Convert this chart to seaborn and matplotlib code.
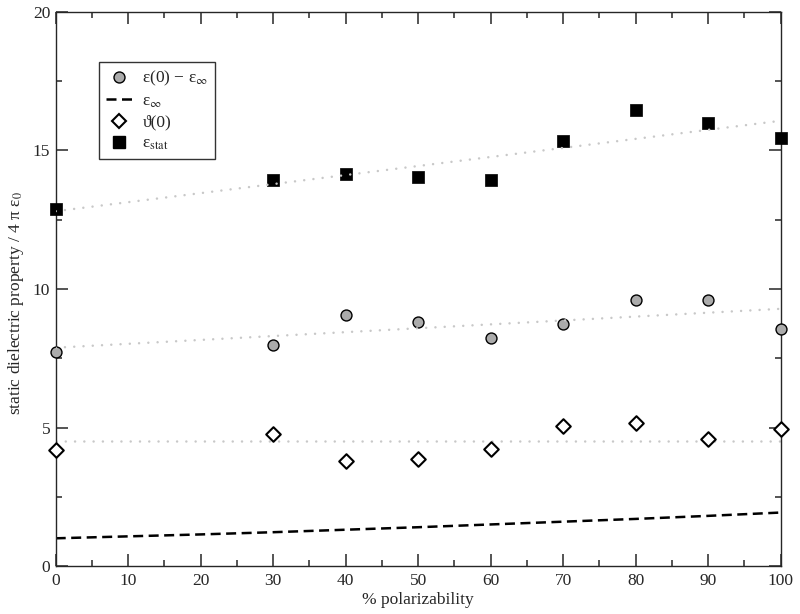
import numpy as np
import pandas as pd
import seaborn as sns
import matplotlib.pyplot as plt
from matplotlib.lines import Line2D
from matplotlib.ticker import MultipleLocator

# values
polarizability = [0, 30, 40, 50, 60, 70, 80, 90, 100]
eps_diff = [7.72, 7.97, 9.05, 8.80, 8.22, 8.73, 9.59, 9.59, 8.56]
theta0 = [4.19, 4.76, 3.78, 3.85, 4.24, 5.07, 5.17, 4.60, 4.96]
eps_stat = [12.88, 13.95, 14.16, 14.06, 13.95, 15.33, 16.46, 16.00, 15.46]

inf_x = [0, 10, 20, 30, 40, 50, 60, 70, 80, 90, 100]
eps_inf = [1.00, 1.07, 1.14, 1.22, 1.31, 1.40, 1.50, 1.60, 1.70, 1.81, 1.93]

df = pd.DataFrame({
    "x": polarizability,
    "diff": eps_diff,
    "theta": theta0,
    "stat": eps_stat,
})
df_inf = pd.DataFrame({"x": inf_x, "inf": eps_inf})
df_mean = pd.DataFrame({"x": [0, 100], "theta": [np.mean(theta0)] * 2})

sns.set_style("ticks")
plt.rcParams["font.family"] = ["Liberation Serif", "DejaVu Serif"]
plt.rcParams["mathtext.fontset"] = "stix"
plt.rcParams["font.size"] = 12.5

fig = plt.figure(figsize=(8, 6.14), dpi=100)
ax = fig.add_axes([55.7 / 800, 1 - 566 / 614, 725 / 800, 554 / 614])

fit_kw = dict(color="#c8c8c8", lw=1.8, ls=(0, (0.01, 3.7)), dash_capstyle="round")
dash_ls = (0, (4, 2.2))

# fitted trend lines
sns.regplot(data=df, x="x", y="stat", scatter=False, ci=None, ax=ax,
            line_kws=dict(zorder=4, **fit_kw))
sns.regplot(data=df, x="x", y="diff", scatter=False, ci=None, ax=ax,
            line_kws=dict(zorder=4, **fit_kw))
sns.lineplot(data=df_mean, x="x", y="theta", ax=ax, zorder=1, **fit_kw)

sns.lineplot(data=df_inf, x="x", y="inf", ax=ax, color="black", lw=1.8,
             ls=dash_ls, zorder=2)

sns.scatterplot(data=df, x="x", y="diff", ax=ax, marker="o", s=62,
                color="#ababab", edgecolor="black", linewidth=1.0, zorder=3,
                clip_on=False)
sns.scatterplot(data=df, x="x", y="theta", ax=ax, marker="D", s=55,
                color="white", edgecolor="black", linewidth=1.5, zorder=3,
                clip_on=False)
sns.scatterplot(data=df, x="x", y="stat", ax=ax, marker="s", s=75,
                color="black", edgecolor="black", linewidth=0.5, zorder=3,
                clip_on=False)

ax.set_xlim(0, 100)
ax.set_ylim(0, 20)
ax.xaxis.set_major_locator(MultipleLocator(10))
ax.xaxis.set_minor_locator(MultipleLocator(5))
ax.yaxis.set_major_locator(MultipleLocator(5))
ax.yaxis.set_minor_locator(MultipleLocator(2.5))
ax.tick_params(which="both", direction="in", top=True, right=True, width=1.1,
               labelsize=12.5)
ax.tick_params(axis="x", pad=5)
ax.tick_params(axis="y", pad=4)
ax.tick_params(which="major", length=8.6)
ax.tick_params(which="minor", length=4.3)
for sp in ax.spines.values():
    sp.set_linewidth(1.0)

ax.set_xlabel("% polarizability", fontsize=12.5, labelpad=2)
ax.set_ylabel(r"static dielectric property / 4 π ε$_0$", fontsize=12.5)
ax.yaxis.set_label_coords(-0.041, 0.475)

handles = [
    Line2D([], [], ls="none", marker="o", ms=7.9, mfc="#ababab", mec="black", mew=1.0),
    Line2D([], [], color="black", lw=1.8, ls=dash_ls),
    Line2D([], [], ls="none", marker="D", ms=7.4, mfc="white", mec="black", mew=1.5),
    Line2D([], [], ls="none", marker="s", ms=8.6, mfc="black", mec="black"),
]
labels = [r"ε(0) − ε$_{\infty}$", r"ε$_{\infty}$", "ϑ(0)", r"ε$_{\rm stat}$"]
leg = ax.legend(handles, labels, loc="upper left", bbox_to_anchor=(0.0597, 0.9097),
                borderaxespad=0, fontsize=12.5, frameon=True, fancybox=False,
                edgecolor="black", handlelength=1.5, handletextpad=0.6,
                borderpad=0.4, labelspacing=0.28)
leg.get_frame().set_linewidth(1.0)

plt.savefig("out.png", dpi=100)
